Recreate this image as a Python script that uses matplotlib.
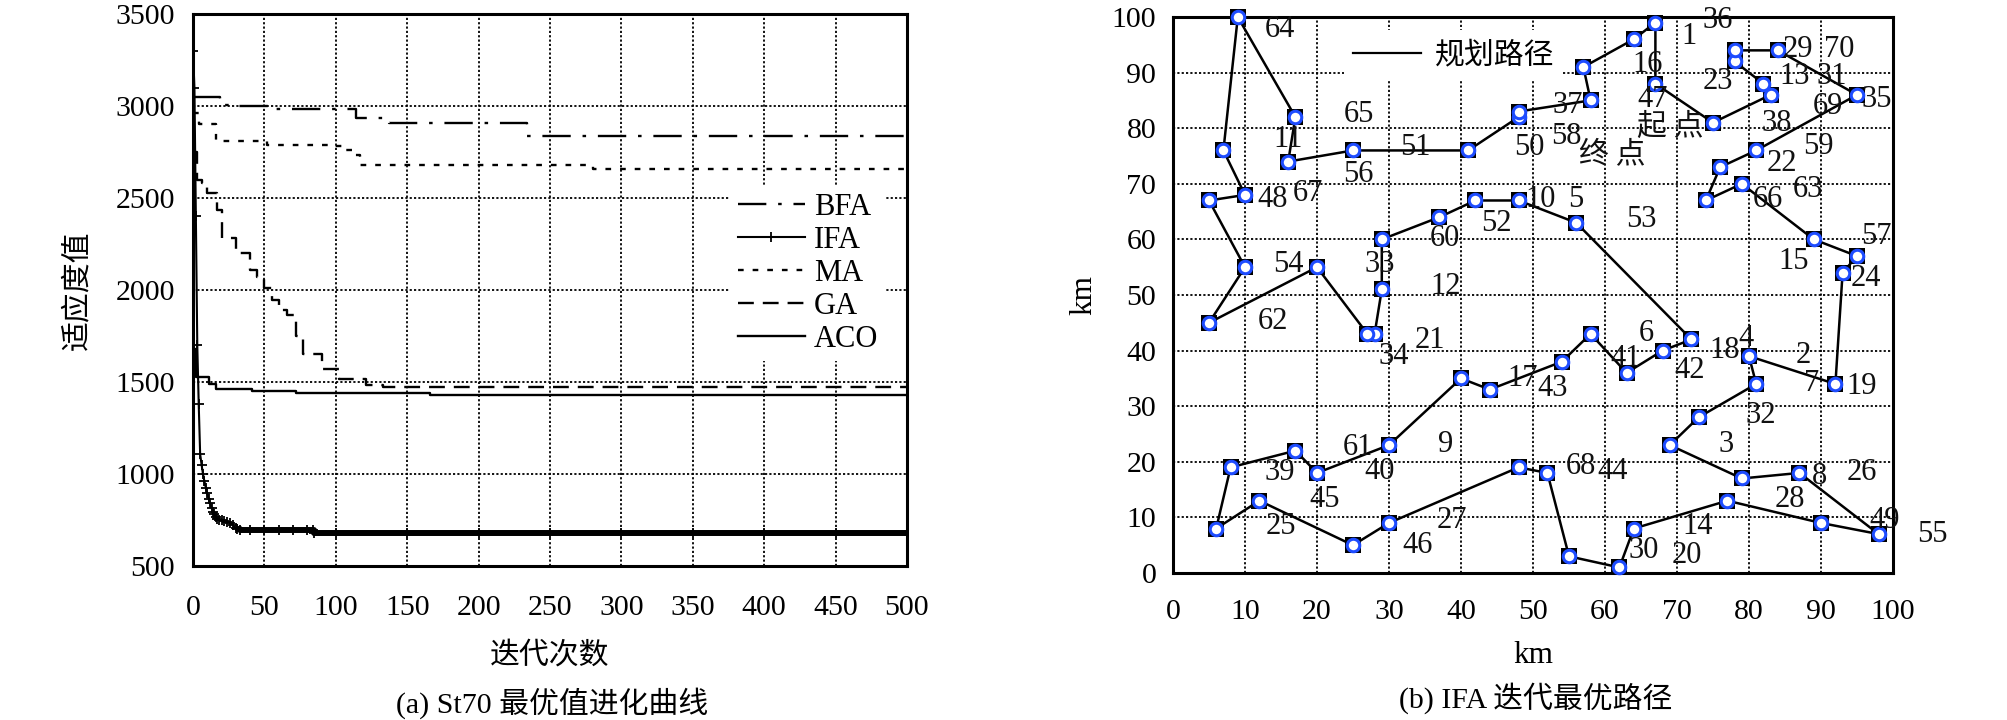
import matplotlib
matplotlib.use("Agg")
import matplotlib.pyplot as plt
from matplotlib.lines import Line2D

SERIF = ['Liberation Serif', 'Noto Sans CJK SC']
CJK = ['Noto Sans CJK SC', 'Liberation Serif']
FS = 21.5

# ---------------- data: (a) convergence curves ----------------
bfa_x = [0, 19, 26, 55, 114, 137, 234, 500]
bfa_y = [3050, 3005, 3000, 2985, 2935, 2905, 2835, 2835]

ma_x = [0, 4, 16, 52, 95, 104, 112, 117, 280, 500]
ma_y = [2960, 2900, 2812, 2790, 2780, 2760, 2735, 2680, 2655, 2655]

ga_x = [0, 3, 6, 10, 17, 20, 30, 40, 45, 50, 55, 60, 66, 72, 77, 90, 102, 121, 133, 500]
ga_y = [2750, 2600, 2580, 2525, 2435, 2280, 2200, 2110, 2073, 2010, 1947, 1893, 1866,
        1750, 1650, 1570, 1518, 1482, 1475, 1475]

aco_x = [0, 2, 11, 16, 41, 72, 166, 500]
aco_y = [1680, 1527, 1490, 1464, 1451, 1439, 1428, 1428]

ifa_x = [0, 1, 2, 3, 4, 5, 6, 7, 8, 9, 10, 11, 12, 13, 14, 15, 16, 17, 18, 20, 22, 24,
         26, 28, 30, 31, 33, 40, 50, 60, 70, 80, 84, 85, 100, 150, 200, 250, 300, 350,
         400, 450, 500]
ifa_y = [3300, 3100, 2400, 1700, 1380, 1110, 1050, 1000, 960, 925, 895, 865, 840, 815,
         795, 780, 768, 758, 752, 748, 745, 740, 733, 722, 705, 700, 698, 698, 698, 698,
         698, 698, 698, 680, 680, 680, 680, 680, 680, 680, 680, 680, 680]

x_ticks_a = [0, 50, 100, 150, 200, 250, 300, 350, 400, 450, 500]
y_ticks_a = [500, 1000, 1500, 2000, 2500, 3000, 3500]

# ---------------- data: (b) St70 route ----------------
route_x = [9, 17, 16, 25, 41, 48, 48, 58, 57, 64, 67, 67, 75, 83, 82, 78, 78, 84, 95, 81,
           76, 74, 79, 89, 95, 93, 92, 80, 81, 73, 69, 79, 87, 98, 90, 77, 64, 62, 55, 52,
           48, 30, 25, 12, 6, 8, 17, 20, 30, 40, 44, 54, 58, 63, 68, 72, 56, 48, 42, 37,
           29, 29, 28, 27, 20, 5, 10, 5, 10, 7]
route_y = [100, 82, 74, 76, 76, 82, 83, 85, 91, 96, 99, 88, 81, 86, 88, 92, 94, 94, 86, 76,
           73, 67, 70, 60, 57, 54, 34, 39, 34, 28, 23, 17, 18, 7, 9, 13, 8, 1, 3, 18,
           19, 9, 5, 13, 8, 19, 22, 18, 23, 35, 33, 38, 43, 36, 40, 42, 63, 67, 67, 64,
           60, 51, 43, 43, 55, 45, 55, 67, 68, 76]

label_text = ['64', '65', '11', '51', '50', '56', '48', '67', '54', '33', '60', '52', '12',
              '10', '5', '53', '37', '58', '36', '1', '16', '47', '23', '29', '70', '13',
              '31', '35', '69', '38', '59', '22', '63', '66', '57', '15', '24', '62', '34',
              '21', '9', '17', '61', '40', '39', '45', '25', '27', '46', '6', '41', '42',
              '43', '18', '4', '2', '7', '19', '32', '3', '68', '44', '8', '26', '28', '49',
              '14', '30', '20', '55']
label_x = [14.8, 25.8, 16.0, 33.7, 49.5, 25.8, 13.9, 18.8, 16.0, 28.7, 37.7, 44.9, 37.9,
           51.0, 55.9, 65.0, 54.8, 54.6, 75.7, 71.7, 65.9, 66.6, 75.7, 86.8, 92.5, 86.3,
           91.5, 97.7, 91.0, 83.8, 89.7, 84.5, 88.2, 82.6, 97.7, 86.2, 96.3, 13.9, 30.6,
           35.7, 37.9, 48.6, 25.7, 28.7, 14.8, 21.0, 15.0, 38.8, 33.9, 65.7, 62.8, 71.7,
           52.7, 76.6, 79.6, 87.6, 88.7, 95.6, 81.7, 76.8, 56.6, 61.0, 89.8, 95.6, 85.7,
           98.9, 72.8, 65.4, 71.4, 105.5]
label_y = [97.8, 82.4, 77.9, 76.6, 76.6, 71.6, 67.1, 68.3, 55.4, 55.4, 60.2, 62.9, 51.5,
           67.1, 67.1, 63.5, 84.0, 78.5, 99.3, 96.5, 91.4, 85.1, 88.4, 94.2, 94.2, 89.3,
           89.3, 85.2, 83.9, 80.8, 76.7, 73.7, 68.9, 67.1, 60.5, 56.0, 53.0, 45.2, 39.0,
           41.9, 23.2, 35.0, 22.5, 18.2, 18.0, 13.3, 8.3, 9.4, 5.0, 43.1, 38.6, 36.4,
           33.2, 40.1, 42.2, 39.2, 34.1, 33.5, 28.4, 23.2, 19.2, 18.2, 17.3, 18.0, 13.3,
           9.4, 8.3, 4.0, 3.2, 7.0]
start_text, start_xy = '起 点', (69.1, 80.3)
end_text, end_xy = '终 点', (61.0, 75.5)
ticks_b = [0, 10, 20, 30, 40, 50, 60, 70, 80, 90, 100]

# ---------------- figure ----------------
W, H = 2008, 720
fig = plt.figure(figsize=(W / 100, H / 100), dpi=100)


def px_axes(l, t, r, b):
    return fig.add_axes([l / W, 1 - b / H, (r - l) / W, (b - t) / H])


grid_kw = dict(color='black', linestyle=(0, (1.2, 1.2)), linewidth=1.3)

# ===== (a) =====
ax1 = px_axes(193, 14, 907, 566)
ax1.set_xlim(0, 500)
ax1.set_ylim(500, 3500)
ax1.set_xticks(x_ticks_a)
ax1.set_yticks(y_ticks_a)
ax1.grid(True, **grid_kw)
ax1.set_axisbelow(True)
lw = 1.7
ax1.plot(bfa_x, bfa_y, drawstyle='steps-post', color='black', lw=lw,
         dashes=(12, 5, 1.5, 5), label='BFA')
ax1.plot(ifa_x, ifa_y, color='black', lw=1.5, marker='+', ms=7, mew=1.3, label='IFA')
i0 = ifa_x.index(31)
ax1.plot(ifa_x[i0:], ifa_y[i0:], drawstyle='steps-post', color='black', lw=4.3,
         solid_capstyle='butt')
ax1.plot(ma_x, ma_y, drawstyle='steps-post', color='black', lw=lw,
         dashes=(2.4, 3.8), label='MA')
ax1.plot(ga_x, ga_y, drawstyle='steps-post', color='black', lw=lw,
         dashes=(6.7, 3.8), label='GA')
ax1.plot(aco_x, aco_y, drawstyle='steps-post', color='black', lw=lw, label='ACO')
for s in ax1.spines.values():
    s.set_linewidth(2.2)
ax1.tick_params(axis='both', length=0, labelsize=FS)
ax1.tick_params(axis='x', pad=21)
ax1.tick_params(axis='y', pad=13)
for t in ax1.get_xticklabels() + ax1.get_yticklabels():
    t.set_fontfamily(SERIF)
leg1 = ax1.legend(loc='upper left', bbox_to_anchor=(0.752, 0.69), borderaxespad=0,
                  frameon=True, fancybox=False, framealpha=1, facecolor='white',
                  edgecolor='none', prop={'family': SERIF, 'size': FS + 0.5},
                  handlelength=2.2, handletextpad=0.3, labelspacing=0.13,
                  borderpad=0.25)
ax1.set_ylabel('适应度值', fontsize=FS, family=CJK)
ax1.yaxis.set_label_coords(-0.141, 0.5)
ax1.set_xlabel('迭代次数', fontsize=FS, family=CJK)
ax1.xaxis.set_label_coords(0.5, -0.134)
fig.text(552 / W, 1 - 703 / H, '(a) St70 最优值进化曲线', fontsize=21.5, family=SERIF,
         ha='center', va='center')

# ===== (b) =====
ax2 = px_axes(1173, 17, 1893, 573)
ax2.set_xlim(0, 100)
ax2.set_ylim(0, 100)
ax2.set_xticks(ticks_b)
ax2.set_yticks(ticks_b)
ax2.grid(True, **grid_kw)
ax2.set_axisbelow(True)
ax2.plot(route_x + route_x[:1], route_y + route_y[:1], color='black', lw=1.8, zorder=3)
ax2.plot(route_x, route_y, linestyle='none', marker='s', ms=11, mew=0, color='black',
         zorder=4, clip_on=False)
ax2.plot(route_x, route_y, linestyle='none', marker='o', ms=9.0, mew=2.2,
         mfc='white', mec='#1e4cff', zorder=5, clip_on=False)
for s, x, y in zip(label_text, label_x, label_y):
    ax2.text(x, y, s, fontsize=FS + 0.5, family=SERIF, ha='center', va='center',
             color='#111111', zorder=6, clip_on=False)
ax2.text(start_xy[0], start_xy[1], start_text, fontsize=FS, family=CJK, ha='center',
         va='center', color='#111111', zorder=6)
ax2.text(end_xy[0], end_xy[1], end_text, fontsize=FS, family=CJK, ha='center',
         va='center', color='#111111', zorder=6)
for s in ax2.spines.values():
    s.set_linewidth(2.2)
ax2.tick_params(axis='both', length=0, labelsize=FS)
ax2.tick_params(axis='x', pad=19)
ax2.tick_params(axis='y', pad=12)
for t in ax2.get_xticklabels() + ax2.get_yticklabels():
    t.set_fontfamily(SERIF)
ax2.legend(handles=[Line2D([], [], color='black', lw=1.6)], labels=['规划路径'],
           loc='upper left', bbox_to_anchor=(0.237, 0.976), borderaxespad=0,
           frameon=True, fancybox=False, framealpha=1, facecolor='white',
           edgecolor='none', prop={'family': CJK, 'size': FS},
           handlelength=2.3, handletextpad=0.45, borderpad=0.3)
ax2.set_ylabel('km', fontsize=FS + 1, family=SERIF)
ax2.yaxis.set_label_coords(-0.104, 0.5)
ax2.set_xlabel('km', fontsize=FS + 1, family=SERIF)
ax2.xaxis.set_label_coords(0.5, -0.122)
fig.text(1536 / W, 1 - 698 / H, '(b) IFA 迭代最优路径', fontsize=21.5, family=SERIF,
         ha='center', va='center')

fig.savefig('out.png', dpi=100, facecolor='white')
